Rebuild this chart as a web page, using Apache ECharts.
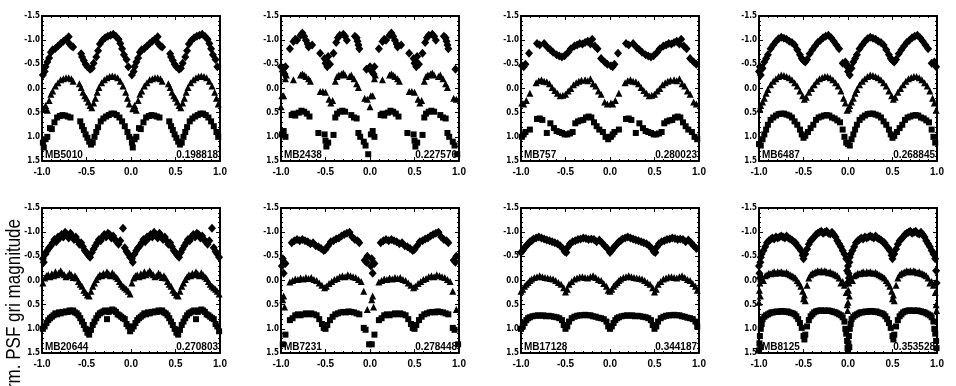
<!DOCTYPE html>
<html>
<head>
<meta charset="utf-8">
<script src="https://cdn.jsdelivr.net/npm/echarts@6.0.0/dist/echarts.min.js"></script>
<style>
html,body{margin:0;padding:0;background:#fff;}
#chart{width:956px;height:386px;}
</style>
</head>
<body>
<div id="chart"></div>
<script>
// ---- Panel labels ----
const panelIds = ['MB5010', 'MB2438', 'MB757', 'MB6487', 'MB20644', 'MB7231', 'MB17128', 'MB8125'];
const panelPeriods = ['0.198818', '0.227576', '0.280023', '0.268845', '0.270803', '0.278448', '0.344187', '0.353528'];
const yAxisTitle = 'Norm. PSF gri magnitude';

// ---- Phase-folded light curves: [phase (0..1), offset magnitude] ----
const p1Diamond = [[0.01,-0.28],[0.03,-0.35],[0.04,-0.45],[0.06,-0.55],[0.08,-0.63],[0.10,-0.75],[0.12,-0.80],[0.15,-0.83],[0.18,-0.88],[0.21,-0.93],[0.24,-0.98],[0.27,-1.02],[0.30,-1.07],[0.31,-0.92],[0.33,-0.88],[0.35,-0.86],[0.44,-0.72],[0.45,-0.65],[0.47,-0.58],[0.49,-0.50],[0.51,-0.45],[0.54,-0.40],[0.56,-0.42],[0.58,-0.52],[0.61,-0.65],[0.63,-0.78],[0.65,-0.92],[0.68,-1.0],[0.71,-1.05],[0.74,-1.08],[0.77,-1.1],[0.80,-1.12],[0.83,-1.08],[0.86,-1.02],[0.88,-0.93],[0.90,-0.82],[0.92,-0.7],[0.95,-0.6],[0.97,-0.45]];
const p1Triangle = [[0.02,0.42],[0.04,0.35],[0.06,0.45],[0.08,0.25],[0.10,0.12],[0.12,0.05],[0.15,-0.05],[0.18,-0.12],[0.21,-0.18],[0.24,-0.2],[0.27,-0.22],[0.30,-0.22],[0.33,-0.2],[0.35,-0.15],[0.42,-0.1],[0.44,-0.02],[0.46,0.08],[0.48,0.15],[0.50,0.2],[0.52,0.28],[0.54,0.35],[0.56,0.4],[0.58,0.3],[0.60,0.2],[0.62,0.08],[0.64,-0.02],[0.67,-0.12],[0.70,-0.18],[0.73,-0.22],[0.76,-0.25],[0.79,-0.26],[0.82,-0.25],[0.85,-0.22],[0.88,-0.15],[0.91,-0.05],[0.94,0.08],[0.96,0.2],[0.98,0.32]];
const p1Square = [[0.01,1.12],[0.02,1.22],[0.04,1.05],[0.06,1.0],[0.09,0.82],[0.11,0.84],[0.14,0.7],[0.17,0.6],[0.20,0.57],[0.23,0.55],[0.26,0.56],[0.29,0.58],[0.32,0.6],[0.43,0.68],[0.45,0.78],[0.47,0.86],[0.49,0.95],[0.51,1.02],[0.53,1.1],[0.55,1.16],[0.57,1.12],[0.59,1.0],[0.61,0.9],[0.63,0.8],[0.66,0.68],[0.69,0.62],[0.72,0.58],[0.75,0.55],[0.78,0.52],[0.81,0.52],[0.84,0.55],[0.87,0.6],[0.90,0.68],[0.93,0.78],[0.96,0.9],[0.98,1.0]];

const p2Diamond = [[0.00,-0.45],[0.02,-0.35],[0.04,-0.3],[0.05,-0.45],[0.10,-0.82],[0.14,-0.97],[0.16,-1.02],[0.18,-1.0],[0.22,-1.1],[0.24,-1.15],[0.26,-1.08],[0.28,-1.0],[0.30,-0.92],[0.31,-0.86],[0.35,-0.9],[0.44,-0.73],[0.49,-0.62],[0.50,-0.52],[0.51,-0.58],[0.52,-0.45],[0.53,-0.66],[0.55,-0.5],[0.59,-0.73],[0.62,-0.95],[0.64,-1.05],[0.66,-1.1],[0.70,-1.12],[0.72,-1.08],[0.74,-1.0],[0.83,-1.08],[0.85,-1.05],[0.86,-0.98],[0.87,-0.9],[0.88,-0.82],[0.96,-0.4]];
const p2Triangle = [[0.00,0.38],[0.01,0.15],[0.03,0.15],[0.05,-0.2],[0.06,-0.28],[0.14,-0.18],[0.22,-0.28],[0.24,-0.3],[0.26,-0.28],[0.28,-0.25],[0.31,-0.2],[0.33,-0.15],[0.44,0.06],[0.47,0.06],[0.50,0.08],[0.54,0.22],[0.56,0.3],[0.58,0.25],[0.61,-0.15],[0.63,-0.25],[0.65,-0.28],[0.68,-0.3],[0.70,-0.32],[0.72,-0.28],[0.77,-0.25],[0.79,-0.28],[0.82,-0.2],[0.85,-0.1],[0.87,-0.02],[0.94,0.2],[0.97,0.22]];
const p2Square = [[0.01,0.95],[0.03,0.88],[0.05,1.0],[0.12,0.55],[0.14,0.52],[0.16,0.56],[0.20,0.5],[0.23,0.46],[0.26,0.48],[0.29,0.52],[0.32,0.58],[0.42,0.92],[0.49,0.95],[0.50,1.08],[0.51,1.2],[0.53,1.12],[0.59,0.96],[0.61,0.6],[0.63,0.52],[0.66,0.48],[0.69,0.46],[0.72,0.48],[0.79,0.55],[0.82,0.6],[0.85,0.62],[0.87,0.92],[0.89,1.0],[0.93,1.1],[0.95,1.18],[0.98,1.36]];

const p3Diamond = [[0.01,-0.47],[0.03,-0.45],[0.05,-0.5],[0.09,-0.73],[0.18,-0.93],[0.21,-0.9],[0.26,-0.93],[0.30,-0.85],[0.33,-0.8],[0.36,-0.75],[0.40,-0.7],[0.43,-0.67],[0.46,-0.65],[0.49,-0.68],[0.53,-0.75],[0.56,-0.82],[0.60,-0.88],[0.63,-0.9],[0.66,-0.93],[0.69,-0.92],[0.72,-0.95],[0.75,-0.98],[0.78,-0.92],[0.80,-1.02],[0.83,-0.88],[0.86,-0.82],[0.90,-0.62],[0.94,-0.55],[0.97,-0.5]];
const p3Triangle = [[0.01,0.3],[0.03,0.32],[0.06,0.25],[0.10,0.1],[0.17,-0.12],[0.20,-0.16],[0.23,-0.18],[0.26,-0.15],[0.29,-0.14],[0.32,-0.1],[0.35,-0.02],[0.38,0.04],[0.41,0.1],[0.44,0.15],[0.47,0.14],[0.50,0.12],[0.53,0.05],[0.56,0.0],[0.59,-0.08],[0.62,-0.12],[0.65,-0.15],[0.68,-0.17],[0.72,-0.18],[0.75,-0.16],[0.78,-0.2],[0.81,-0.1],[0.84,-0.05],[0.87,0.05],[0.90,0.12],[0.94,0.28],[0.97,0.32]];
const p3Square = [[0.01,1.0],[0.03,0.95],[0.05,0.9],[0.10,0.85],[0.18,0.63],[0.21,0.62],[0.24,0.65],[0.29,0.92],[0.33,0.72],[0.37,0.82],[0.40,0.88],[0.43,0.9],[0.46,0.92],[0.49,0.95],[0.52,0.95],[0.55,0.93],[0.58,0.9],[0.61,0.72],[0.64,0.68],[0.67,0.66],[0.70,0.65],[0.73,0.6],[0.76,0.58],[0.79,0.6],[0.82,0.7],[0.85,0.78],[0.88,0.85],[0.92,0.9],[0.95,1.0],[0.98,1.05]];

const p4Diamond = [[0.00,-0.35],[0.01,-0.45],[0.02,-0.28],[0.04,-0.42],[0.06,-0.55],[0.08,-0.62],[0.10,-0.7],[0.13,-0.82],[0.16,-0.9],[0.19,-0.97],[0.22,-1.03],[0.25,-1.06],[0.28,-1.04],[0.31,-1.02],[0.34,-0.98],[0.37,-0.95],[0.40,-0.9],[0.43,-0.8],[0.46,-0.7],[0.48,-0.62],[0.50,-0.58],[0.52,-0.55],[0.54,-0.6],[0.57,-0.72],[0.60,-0.8],[0.63,-0.88],[0.66,-0.95],[0.69,-1.0],[0.72,-1.05],[0.75,-1.08],[0.78,-1.1],[0.81,-1.05],[0.84,-0.98],[0.87,-0.9],[0.90,-0.82],[0.94,-0.52],[0.97,-0.55],[0.99,-0.45]];
const p4Triangle = [[0.01,0.42],[0.02,0.35],[0.04,0.28],[0.06,0.2],[0.08,0.1],[0.10,0.02],[0.13,-0.08],[0.16,-0.15],[0.19,-0.2],[0.22,-0.25],[0.25,-0.28],[0.28,-0.27],[0.31,-0.25],[0.34,-0.22],[0.37,-0.18],[0.40,-0.12],[0.43,-0.05],[0.46,0.05],[0.49,0.15],[0.51,0.22],[0.53,0.18],[0.56,0.08],[0.59,0.0],[0.62,-0.08],[0.65,-0.15],[0.68,-0.2],[0.71,-0.23],[0.74,-0.25],[0.77,-0.25],[0.80,-0.22],[0.83,-0.18],[0.86,-0.12],[0.89,-0.05],[0.92,0.05],[0.95,0.2],[0.97,0.3],[0.99,0.45]];
const p4Square = [[0.00,1.15],[0.02,1.18],[0.04,1.05],[0.06,0.95],[0.08,0.85],[0.10,0.75],[0.13,0.65],[0.16,0.6],[0.19,0.56],[0.22,0.53],[0.25,0.52],[0.28,0.52],[0.31,0.54],[0.34,0.56],[0.37,0.6],[0.40,0.68],[0.43,0.75],[0.46,0.85],[0.48,0.95],[0.50,1.02],[0.52,0.98],[0.55,0.9],[0.58,0.82],[0.61,0.75],[0.64,0.65],[0.67,0.6],[0.70,0.58],[0.73,0.56],[0.76,0.55],[0.79,0.56],[0.82,0.6],[0.85,0.62],[0.88,0.66],[0.91,0.7],[0.94,0.85],[0.96,1.0],[0.98,1.12]];

const p5Diamond = [[0.01,-0.45],[0.02,-0.38],[0.04,-0.55],[0.06,-0.62],[0.08,-0.68],[0.10,-0.72],[0.12,-0.78],[0.14,-0.85],[0.16,-0.8],[0.18,-0.9],[0.20,-0.88],[0.22,-0.95],[0.24,-0.9],[0.26,-1.0],[0.28,-0.95],[0.30,-0.88],[0.32,-0.98],[0.34,-0.92],[0.36,-0.85],[0.38,-0.9],[0.40,-0.82],[0.42,-0.75],[0.44,-0.78],[0.46,-0.7],[0.48,-0.62],[0.50,-0.58],[0.52,-0.52],[0.54,-0.48],[0.56,-0.58],[0.58,-0.65],[0.60,-0.72],[0.62,-0.78],[0.64,-0.85],[0.66,-0.82],[0.68,-0.9],[0.70,-0.95],[0.72,-0.9],[0.74,-0.98],[0.76,-0.95],[0.78,-0.88],[0.80,-0.92],[0.82,-0.85],[0.84,-0.8],[0.86,-0.75],[0.88,-0.82],[0.91,-1.08],[0.93,-0.68],[0.95,-0.6],[0.97,-0.55],[0.99,-0.48]];
const p5Triangle = [[0.01,0.05],[0.03,-0.05],[0.05,-0.1],[0.07,-0.12],[0.09,-0.08],[0.11,-0.14],[0.13,-0.1],[0.15,-0.18],[0.17,-0.12],[0.19,-0.16],[0.21,-0.2],[0.23,-0.15],[0.25,-0.12],[0.27,-0.08],[0.29,-0.1],[0.31,-0.15],[0.33,-0.12],[0.35,-0.06],[0.37,-0.1],[0.39,-0.05],[0.41,0.02],[0.43,0.08],[0.45,0.12],[0.47,0.2],[0.49,0.25],[0.51,0.3],[0.53,0.32],[0.55,0.22],[0.57,0.12],[0.59,0.05],[0.61,-0.02],[0.63,-0.08],[0.65,-0.12],[0.67,-0.1],[0.69,-0.15],[0.71,-0.12],[0.73,-0.18],[0.75,-0.14],[0.77,-0.1],[0.79,-0.16],[0.81,-0.12],[0.83,-0.08],[0.85,-0.04],[0.87,0.02],[0.89,0.08],[0.91,0.12],[0.93,0.15],[0.95,0.18],[0.97,0.22],[0.99,0.28]];
const p5Square = [[0.01,1.0],[0.03,0.95],[0.05,0.88],[0.07,0.82],[0.09,0.78],[0.11,0.75],[0.13,0.72],[0.15,0.68],[0.17,0.7],[0.19,0.66],[0.21,0.68],[0.23,0.65],[0.25,0.66],[0.27,0.64],[0.29,0.65],[0.31,0.62],[0.33,0.64],[0.35,0.62],[0.37,0.66],[0.39,0.68],[0.41,0.72],[0.43,0.78],[0.45,0.85],[0.47,0.92],[0.49,1.0],[0.51,1.08],[0.53,1.12],[0.55,1.02],[0.57,0.92],[0.59,0.85],[0.61,0.78],[0.63,0.72],[0.65,0.68],[0.67,0.66],[0.69,0.64],[0.71,0.62],[0.73,0.8],[0.75,0.65],[0.77,0.62],[0.79,0.6],[0.81,0.62],[0.83,0.65],[0.85,0.7],[0.87,0.72],[0.89,0.75],[0.91,0.78],[0.93,0.8],[0.95,0.9],[0.97,0.95],[0.99,1.05]];

const p6Diamond = [[0.01,-0.3],[0.02,-0.45],[0.03,-0.15],[0.05,-0.35],[0.12,-0.78],[0.15,-0.82],[0.18,-0.85],[0.21,-0.82],[0.24,-0.85],[0.27,-0.82],[0.30,-0.8],[0.33,-0.76],[0.36,-0.78],[0.39,-0.72],[0.42,-0.7],[0.45,-0.66],[0.48,-0.62],[0.50,-0.64],[0.53,-0.72],[0.56,-0.8],[0.59,-0.82],[0.62,-0.86],[0.65,-0.88],[0.68,-0.92],[0.71,-0.95],[0.74,-0.98],[0.77,-1.0],[0.80,-0.9],[0.83,-0.85],[0.86,-0.82],[0.88,-0.78],[0.94,-0.42],[0.96,-0.38],[0.97,-0.5]];
const p6Triangle = [[0.02,0.4],[0.03,0.32],[0.04,0.55],[0.10,0.03],[0.13,0.0],[0.16,-0.03],[0.19,-0.02],[0.22,-0.05],[0.25,-0.03],[0.28,-0.06],[0.31,-0.04],[0.34,-0.06],[0.37,-0.02],[0.40,0.0],[0.43,0.05],[0.46,0.1],[0.49,0.15],[0.51,0.12],[0.54,0.06],[0.57,0.02],[0.60,-0.02],[0.63,-0.04],[0.66,-0.08],[0.69,-0.1],[0.72,-0.08],[0.75,-0.12],[0.78,-0.1],[0.81,-0.08],[0.84,-0.06],[0.87,-0.02],[0.90,0.02],[0.93,0.22],[0.97,0.6]];
const p6Square = [[0.02,1.32],[0.05,1.12],[0.10,0.82],[0.13,0.78],[0.16,0.72],[0.19,0.7],[0.22,0.72],[0.25,0.7],[0.28,0.68],[0.31,0.7],[0.34,0.68],[0.37,0.7],[0.40,0.72],[0.43,0.8],[0.46,0.9],[0.48,0.98],[0.50,1.0],[0.52,0.92],[0.55,0.82],[0.58,0.75],[0.61,0.7],[0.64,0.68],[0.67,0.66],[0.70,0.65],[0.73,0.66],[0.76,0.64],[0.79,0.65],[0.82,0.66],[0.85,0.68],[0.88,0.7],[0.93,0.98],[0.95,1.02],[0.99,1.32]];

const p7Diamond = [[0.00,-0.58],[0.02,-0.62],[0.04,-0.68],[0.06,-0.72],[0.08,-0.76],[0.10,-0.8],[0.12,-0.82],[0.14,-0.86],[0.17,-0.88],[0.20,-0.9],[0.23,-0.88],[0.26,-0.86],[0.29,-0.84],[0.32,-0.82],[0.35,-0.8],[0.38,-0.78],[0.41,-0.76],[0.44,-0.72],[0.47,-0.66],[0.49,-0.6],[0.51,-0.58],[0.53,-0.7],[0.55,-0.76],[0.58,-0.8],[0.61,-0.82],[0.64,-0.85],[0.67,-0.86],[0.70,-0.88],[0.73,-0.87],[0.76,-0.85],[0.79,-0.86],[0.82,-0.85],[0.85,-0.8],[0.88,-0.84],[0.91,-0.78],[0.94,-0.72],[0.97,-0.66]];
const p7Triangle = [[0.00,0.22],[0.02,0.18],[0.04,0.12],[0.06,0.08],[0.08,0.04],[0.10,0.0],[0.12,-0.03],[0.15,-0.06],[0.18,-0.08],[0.21,-0.1],[0.24,-0.08],[0.27,-0.06],[0.30,-0.05],[0.33,-0.04],[0.36,-0.03],[0.39,0.0],[0.42,0.04],[0.45,0.08],[0.48,0.15],[0.50,0.24],[0.52,0.18],[0.54,0.08],[0.57,0.02],[0.60,-0.03],[0.63,-0.05],[0.66,-0.07],[0.69,-0.08],[0.72,-0.06],[0.75,-0.05],[0.78,-0.08],[0.81,-0.1],[0.84,-0.06],[0.87,-0.02],[0.90,0.0],[0.93,0.06],[0.96,0.12],[0.98,0.2]];
const p7Square = [[0.00,1.0],[0.02,0.95],[0.04,0.88],[0.06,0.82],[0.08,0.78],[0.10,0.76],[0.13,0.74],[0.16,0.73],[0.19,0.72],[0.22,0.73],[0.25,0.72],[0.28,0.74],[0.31,0.73],[0.34,0.74],[0.37,0.75],[0.40,0.76],[0.43,0.78],[0.46,0.82],[0.48,0.92],[0.50,1.0],[0.52,0.95],[0.54,0.85],[0.57,0.78],[0.60,0.75],[0.63,0.73],[0.66,0.72],[0.69,0.72],[0.72,0.71],[0.75,0.72],[0.78,0.72],[0.81,0.74],[0.84,0.75],[0.87,0.77],[0.90,0.78],[0.93,0.8],[0.96,0.85],[0.98,0.95]];

const p8Diamond = [[0.00,-0.3],[0.005,-0.15],[0.01,-0.05],[0.015,-0.38],[0.02,-0.48],[0.03,-0.55],[0.05,-0.62],[0.07,-0.7],[0.09,-0.78],[0.11,-0.82],[0.13,-0.85],[0.15,-0.88],[0.17,-0.86],[0.19,-0.9],[0.21,-0.88],[0.23,-0.9],[0.25,-0.92],[0.27,-0.9],[0.29,-0.88],[0.31,-0.92],[0.33,-0.88],[0.35,-0.86],[0.37,-0.84],[0.39,-0.8],[0.41,-0.78],[0.43,-0.72],[0.45,-0.68],[0.47,-0.62],[0.49,-0.52],[0.50,-0.45],[0.52,-0.55],[0.54,-0.65],[0.56,-0.75],[0.58,-0.82],[0.60,-0.86],[0.62,-0.9],[0.64,-0.95],[0.66,-0.98],[0.68,-1.0],[0.70,-1.02],[0.72,-0.98],[0.74,-1.0],[0.76,-1.02],[0.78,-0.98],[0.80,-0.96],[0.82,-1.0],[0.84,-0.95],[0.86,-0.9],[0.88,-0.82],[0.90,-0.76],[0.92,-0.7],[0.94,-0.62],[0.96,-0.55],[0.98,-0.45],[0.99,-0.2],[0.995,0.05]];
const p8Triangle = [[0.00,0.45],[0.005,0.2],[0.01,0.05],[0.015,0.32],[0.02,-0.05],[0.03,-0.1],[0.05,0.0],[0.07,-0.1],[0.09,-0.12],[0.11,-0.15],[0.13,-0.14],[0.15,-0.16],[0.17,-0.18],[0.19,-0.15],[0.21,-0.18],[0.23,-0.16],[0.25,-0.18],[0.27,-0.16],[0.29,-0.15],[0.31,-0.17],[0.33,-0.14],[0.35,-0.12],[0.37,-0.1],[0.39,-0.08],[0.41,-0.05],[0.43,0.0],[0.45,0.05],[0.47,0.12],[0.49,0.22],[0.50,0.38],[0.51,0.3],[0.52,0.42],[0.54,0.1],[0.56,-0.05],[0.58,-0.12],[0.60,-0.15],[0.62,-0.16],[0.64,-0.18],[0.66,-0.2],[0.68,-0.18],[0.70,-0.2],[0.72,-0.18],[0.74,-0.2],[0.76,-0.18],[0.78,-0.16],[0.80,-0.18],[0.82,-0.15],[0.84,-0.14],[0.86,-0.12],[0.88,-0.1],[0.90,-0.05],[0.92,0.05],[0.94,0.02],[0.96,0.1],[0.98,0.25],[0.99,0.5],[0.995,0.62]];
const p8Square = [[0.00,1.45],[0.005,1.3],[0.01,1.15],[0.015,1.38],[0.02,1.0],[0.03,0.9],[0.04,0.8],[0.06,0.75],[0.08,0.72],[0.10,0.7],[0.12,0.68],[0.14,0.66],[0.16,0.66],[0.18,0.65],[0.20,0.64],[0.22,0.65],[0.24,0.64],[0.26,0.63],[0.28,0.64],[0.30,0.65],[0.32,0.64],[0.34,0.66],[0.36,0.67],[0.38,0.68],[0.40,0.7],[0.42,0.74],[0.44,0.8],[0.46,0.88],[0.48,0.98],[0.50,1.15],[0.51,1.22],[0.52,1.12],[0.54,0.95],[0.56,0.82],[0.58,0.74],[0.60,0.7],[0.62,0.66],[0.64,0.64],[0.66,0.63],[0.68,0.62],[0.70,0.62],[0.72,0.63],[0.74,0.62],[0.76,0.63],[0.78,0.62],[0.80,0.63],[0.82,0.64],[0.84,0.65],[0.86,0.66],[0.88,0.68],[0.90,0.7],[0.92,0.72],[0.94,0.76],[0.96,0.85],[0.97,1.0],[0.98,1.1],[0.99,1.25],[0.995,1.4]];

const panelData = [
  [p1Diamond, p1Triangle, p1Square],
  [p2Diamond, p2Triangle, p2Square],
  [p3Diamond, p3Triangle, p3Square],
  [p4Diamond, p4Triangle, p4Square],
  [p5Diamond, p5Triangle, p5Square],
  [p6Diamond, p6Triangle, p6Square],
  [p7Diamond, p7Triangle, p7Square],
  [p8Diamond, p8Triangle, p8Square]
];

// ---- Layout ----
const GRID_LEFTS = [42, 281, 521, 759];
const GRID_TOPS = [16, 208];
const GRID_W = 178;
const GRID_H = 145;

// phase-folded data plotted twice: phase-1 and phase
function fold(arr) {
  return arr.map(d => [d[0] - 1, d[1]]).concat(arr.map(d => [d[0], d[1]]));
}

const symbols = [
  { symbol: 'diamond', size: [8, 9] },
  { symbol: 'triangle', size: [7, 7] },
  { symbol: 'rect', size: [6, 6] }
];

const grids = [], xAxes = [], yAxes = [], series = [], graphics = [];
const lineStyle = { color: '#000', width: 2 };
const tickBase = { show: true, inside: true, length: 4, lineStyle: { color: '#000', width: 1 } };
const minorBase = { show: true, splitNumber: 5, length: 2, lineStyle: { color: '#000', width: 1 } };

for (let i = 0; i < 8; i++) {
  const r = Math.floor(i / 4), c = i % 4;
  grids.push({ left: GRID_LEFTS[c], top: GRID_TOPS[r], width: GRID_W, height: GRID_H, containLabel: false });
  const xCommon = { gridIndex: i, type: 'value', min: -1, max: 1, interval: 0.5, splitLine: { show: false },
    axisLine: { show: true, onZero: false, lineStyle }, axisTick: tickBase, minorTick: minorBase, minorSplitLine: { show: false } };
  xAxes.push(Object.assign({}, xCommon, { position: 'bottom',
    axisLabel: { show: true, color: '#000', fontSize: 10, fontWeight: 'bold', fontFamily: 'Liberation Sans, Arial, sans-serif',
      margin: 6, showMinLabel: true, showMaxLabel: true, hideOverlap: false, formatter: v => v.toFixed(1) } }));
  xAxes.push(Object.assign({}, xCommon, { position: 'top', axisLabel: { show: false } }));
  const yCommon = { gridIndex: i, type: 'value', inverse: true, min: -1.5, max: 1.5, interval: 0.5, splitLine: { show: false },
    axisLine: { show: true, onZero: false, lineStyle }, axisTick: tickBase, minorTick: minorBase, minorSplitLine: { show: false } };
  yAxes.push(Object.assign({}, yCommon, { position: 'left',
    axisLabel: { show: true, color: '#000', fontSize: 8, fontWeight: 'bold', fontFamily: 'Liberation Sans Narrow, DejaVu Sans Condensed, Liberation Sans, sans-serif',
      margin: 2, showMinLabel: true, showMaxLabel: true, hideOverlap: false, formatter: v => v.toFixed(1) } }));
  yAxes.push(Object.assign({}, yCommon, { position: 'right', axisLabel: { show: false } }));

  panelData[i].forEach((arr, k) => {
    series.push({
      type: 'scatter', xAxisIndex: 2 * i, yAxisIndex: 2 * i,
      symbol: symbols[k].symbol, symbolSize: symbols[k].size,
      itemStyle: { color: '#000', opacity: 1 },
      data: fold(arr), silent: true, animation: false
    });
  });

  graphics.push({ type: 'text', x: GRID_LEFTS[c] + 3, y: GRID_TOPS[r] + GRID_H - 1, z: 100,
    style: { text: panelIds[i], font: 'bold 10px Liberation Sans, Arial, sans-serif', fill: '#000',
      align: 'left', verticalAlign: 'bottom', textAlign: 'left', textVerticalAlign: 'bottom' } });
  graphics.push({ type: 'text', x: GRID_LEFTS[c] + GRID_W - 2, y: GRID_TOPS[r] + GRID_H - 1, z: 100,
    style: { text: panelPeriods[i], font: 'bold 10px Liberation Sans, Arial, sans-serif', fill: '#000',
      align: 'right', verticalAlign: 'bottom', textAlign: 'right', textVerticalAlign: 'bottom' } });
}

graphics.push({ type: 'text', x: 14, y: 219, rotation: Math.PI / 2, scaleX: 1, scaleY: 1.2, z: 100,
  style: { text: yAxisTitle, font: '17px Liberation Sans, Arial, sans-serif', fill: '#000',
    align: 'right', verticalAlign: 'middle', textAlign: 'right', textVerticalAlign: 'middle' } });

const chart = echarts.init(document.getElementById('chart'), null, { renderer: 'canvas' });
chart.setOption({
  animation: false,
  backgroundColor: '#fff',
  grid: grids,
  xAxis: xAxes,
  yAxis: yAxes,
  series: series,
  graphic: graphics
});
</script>
</body>
</html>
